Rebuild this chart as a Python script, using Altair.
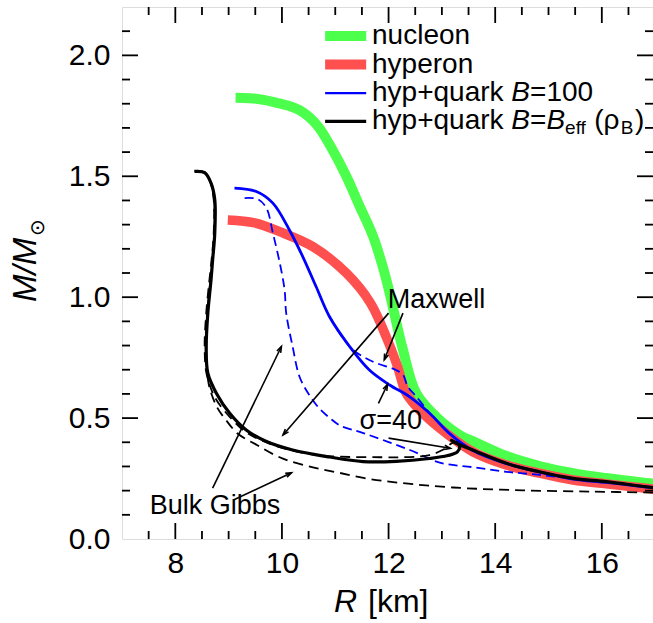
import math
import altair as alt
import pandas as pd

# ---------------- data ----------------
nucleon_R = [9.13, 9.40, 9.68, 9.95, 10.14, 10.33, 10.51, 10.70, 10.95, 11.21, 11.46, 11.71, 11.89, 12.02, 12.10,
             12.27, 12.52, 12.93, 13.39, 13.58, 14.21, 14.83, 15.46, 16.08, 16.83, 17.0]
nucleon_M = [1.825, 1.823, 1.815, 1.801, 1.791, 1.774, 1.745, 1.700, 1.609, 1.499, 1.375, 1.251, 1.127, 1.017, 0.940,
             0.782, 0.603, 0.498, 0.423, 0.405, 0.343, 0.302, 0.272, 0.252, 0.232, 0.228]

hyperon_R = [8.985, 9.49, 9.955, 10.58, 11.21, 11.66, 11.98, 12.17, 12.33, 12.64, 13.08, 13.58, 14.21, 14.83,
             15.46, 16.08, 16.83, 17.0]
hyperon_M = [1.319, 1.307, 1.271, 1.209, 1.099, 0.976, 0.823, 0.712, 0.603, 0.520, 0.437, 0.361, 0.306, 0.272,
             0.244, 0.228, 0.210, 0.206]

hq100_R = [9.11, 9.52, 9.83, 10.14, 10.39, 10.64, 10.89, 11.27, 11.64, 12.02, 12.39, 12.77, 13.14, 13.58, 14.21,
           14.83, 15.46, 16.08, 16.83, 17.0]
hq100_M = [1.451, 1.437, 1.389, 1.278, 1.168, 1.044, 0.920, 0.796, 0.699, 0.637, 0.589, 0.520, 0.437, 0.366, 0.312,
           0.277, 0.248, 0.234, 0.215, 0.211]

hq100_gibbs_R = [9.30, 9.55, 9.71, 9.83, 9.96, 10.05, 10.08, 10.20, 10.33, 10.50, 10.70, 10.90, 11.10, 11.54,
                 12.40, 12.96, 13.58, 14.21, 14.83, 15.46, 16.08, 16.83, 17.0]
hq100_gibbs_M = [1.410, 1.405, 1.368, 1.265, 1.141, 1.030, 0.934, 0.796, 0.671, 0.600, 0.540, 0.500, 0.468, 0.437,
                 0.368, 0.316, 0.297, 0.278, 0.265, 0.250, 0.236, 0.216, 0.212]

hq100_maxwell_R = [10.89, 11.14, 11.33, 11.70, 12.14, 12.27, 12.36, 12.52, 12.77]
hq100_maxwell_M = [0.920, 0.832, 0.782, 0.734, 0.699, 0.679, 0.630, 0.589, 0.520]

hqeff_R = [17.0, 16.83, 16.08, 15.46, 14.83, 14.21, 13.58, 13.27, 13.18, 13.33, 13.29, 13.11, 12.77, 12.14, 11.52,
           10.89, 10.20, 9.71, 9.33, 9.02, 8.77, 8.61, 8.58, 8.61, 8.67, 8.70, 8.74, 8.74, 8.67, 8.55, 8.36]
hqeff_M = [0.212, 0.216, 0.237, 0.251, 0.278, 0.313, 0.368, 0.396, 0.408, 0.385, 0.360, 0.345, 0.333, 0.321, 0.320,
           0.339, 0.368, 0.403, 0.451, 0.520, 0.603, 0.686, 0.796, 0.934, 1.072, 1.154, 1.265, 1.403, 1.472, 1.515, 1.520]

hqeff_maxwell_R = [13.58, 13.40, 13.24, 13.01, 12.77, 12.39, 11.87, 10.87, 10.28, 9.69, 9.32, 9.02, 8.75, 8.59,
                   8.55, 8.58, 8.64, 8.68, 8.72, 8.72, 8.66, 8.55, 8.36]
hqeff_maxwell_M = [0.368, 0.389, 0.401, 0.368, 0.347, 0.339, 0.338, 0.343, 0.361, 0.401, 0.443, 0.505, 0.583, 0.679,
                   0.794, 0.934, 1.072, 1.154, 1.265, 1.403, 1.473, 1.516, 1.520]

hqeff_gibbs_R = [16.96, 15.85, 14.52, 13.21, 12.22, 11.65, 11.09, 10.62, 10.15, 9.87, 9.53, 9.18, 8.95, 8.78, 8.63,
                 8.59, 8.57, 8.60, 8.66, 8.70, 8.73, 8.73, 8.67, 8.55, 8.36]
hqeff_gibbs_M = [0.192, 0.196, 0.201, 0.213, 0.232, 0.248, 0.273, 0.294, 0.322, 0.347, 0.389, 0.434, 0.492, 0.546,
                 0.637, 0.720, 0.794, 0.935, 1.072, 1.154, 1.266, 1.403, 1.473, 1.516, 1.520]

legend_labels = ["nucleon", "hyperon", "hyp+quark", "hyp+quark"]
legend_M = [2.080, 1.962, 1.844, 1.727]

annot_text = ["Maxwell", "Bulk Gibbs", "σ=40"]
annot_R = [12.90, 8.745, 12.04]
annot_M = [0.989, 0.137, 0.488]

arrow_R1 = [12.00, 12.27, 8.70, 9.09, 11.81, 12.00]
arrow_M1 = [0.934, 0.934, 0.210, 0.161, 0.561, 0.417]
arrow_R2 = [10.02, 11.92, 9.99, 10.18, 11.98, 13.16]
arrow_M2 = [0.430, 0.741, 0.796, 0.274, 0.639, 0.375]

x_major = [8, 10, 12, 14, 16]
x_minor = [7.5, 8.5, 9.0, 9.5, 10.5, 11.0, 11.5, 12.5, 13.0, 13.5, 14.5, 15.0, 15.5, 16.5]
y_major = [0.0, 0.5, 1.0, 1.5, 2.0]
y_minor = [0.1, 0.2, 0.3, 0.4, 0.6, 0.7, 0.8, 0.9, 1.1, 1.2, 1.3, 1.4, 1.6, 1.7, 1.8, 1.9, 2.1]

# ---------------- layout ----------------
W, H = 531, 532
PAD_L, PAD_T = 122, 7
XMIN, XMAX = 7.0, 16.96
YMIN, YMAX = 0.0, 2.2
SX = W / (XMAX - XMIN)
SY = H / (YMAX - YMIN)
FONT = "Liberation Sans"

GREEN = "#4cff4c"
RED = "#ff5050"
BLUE = "#0000ff"

xs = alt.Scale(domain=[XMIN, XMAX], nice=False, zero=False)
ys = alt.Scale(domain=[YMIN, YMAX], nice=False, zero=False)
x_axis = alt.Axis(values=x_major, format="d", ticks=False, tickSize=0, domain=False, grid=False, title=None,
                  labelFont=FONT, labelFontSize=30, labelColor="black", labelPadding=9)
y_axis = alt.Axis(values=y_major, format=".1f", ticks=False, tickSize=0, domain=False, grid=False, title=None,
                  labelFont=FONT, labelFontSize=30, labelColor="black", labelPadding=12)


def X(field="R"):
    return alt.X(f"{field}:Q", scale=xs, axis=x_axis)


def Y(field="M"):
    return alt.Y(f"{field}:Q", scale=ys, axis=y_axis)


def curve(R, M, color, width, dash=None):
    df = pd.DataFrame({"R": R, "M": M, "i": list(range(len(R)))})
    kw = dict(color=color, strokeWidth=width, clip=True, strokeJoin="round", interpolate="catmull-rom")
    if dash:
        kw["strokeDash"] = dash
    return alt.Chart(df).mark_line(**kw).encode(x=X(), y=Y(), order="i:Q")


layers = []
layers.append(curve(nucleon_R, nucleon_M, GREEN, 10))
layers.append(curve(hyperon_R, hyperon_M, RED, 9.5))
layers.append(curve(hq100_gibbs_R, hq100_gibbs_M, BLUE, 1.8, [9, 5]))
layers.append(curve(hq100_maxwell_R, hq100_maxwell_M, BLUE, 1.8, [9, 5]))
layers.append(curve(hq100_R, hq100_M, BLUE, 2.8))
layers.append(curve(hqeff_gibbs_R, hqeff_gibbs_M, "black", 1.8, [10, 6]))
layers.append(curve(hqeff_maxwell_R, hqeff_maxwell_M, "black", 1.8, [10, 6]))
layers.append(curve(hqeff_R, hqeff_M, "black", 3.2))

# ---------------- annotations (arrows + text) ----------------
arr = pd.DataFrame({"R": arrow_R1, "M": arrow_M1, "R2": arrow_R2, "M2": arrow_M2})
arr["ang"] = [
    (math.degrees(math.atan2((r2 - r1) * SX, (m2 - m1) * SY)) + 360) % 360
    for r1, m1, r2, m2 in zip(arrow_R1, arrow_M1, arrow_R2, arrow_M2)
]
layers.append(alt.Chart(arr).mark_rule(color="black", strokeWidth=1.6).encode(
    x=X(), y=Y(), x2="R2:Q", y2="M2:Q"))
layers.append(alt.Chart(arr).mark_point(
    shape="M -0.7 2 L 0 0 L 0.7 2", filled=False, stroke="black", strokeWidth=1.6, size=36, opacity=1
).encode(x=X("R2"), y=Y("M2"), angle=alt.Angle("ang:Q", scale=None)))

ann = pd.DataFrame({"R": annot_R, "M": annot_M, "t": annot_text})
layers.append(alt.Chart(ann).mark_text(font=FONT, fontSize=27, color="black", align="center",
                                       baseline="middle").encode(x=X(), y=Y(), text="t:N"))

# ---------------- legend ----------------
leg_colors = [GREEN, RED, BLUE, "black"]
leg_widths = [10, 10, 2.2, 3.2]
LEG_R1, LEG_R2, LEG_T = 10.81, 11.58, 11.69
for k in range(4):
    d = pd.DataFrame({"R": [LEG_R1], "R2": [LEG_R2], "M": [legend_M[k]]})
    layers.append(alt.Chart(d).mark_rule(color=leg_colors[k], strokeWidth=leg_widths[k]).encode(
        x=X(), x2="R2:Q", y=Y()))

AW = {' ': 278, '+': 584, '=': 584, '(': 333, ')': 333, '0': 556, '1': 556, '4': 556, 'a': 556, 'B': 667,
      'e': 556, 'f': 278, 'h': 556, 'k': 500, 'p': 556, 'q': 556, 'r': 333, 'u': 556, 'y': 500, 'ρ': 580,
      'n': 556, 'c': 500, 'l': 222, 'o': 556, 'R': 722}


def tw(s, size):
    return sum(AW.get(c, 556) for c in s) * size / 1000.0


LF = 28
SUB = 19
# segments: (text, style, size, dy, extra gap before)
rows = [
    [(legend_labels[0], "normal", LF, 0, 0)],
    [(legend_labels[1], "normal", LF, 0, 0)],
    [(legend_labels[2], "normal", LF, 0, 0), ("B", "italic", LF, 0, 7.8), ("=100", "normal", LF, 0, 0)],
    [(legend_labels[3], "normal", LF, 0, 0), ("B", "italic", LF, 0, 7.8), ("=", "normal", LF, 0, 0),
     ("B", "italic", LF, 0, 0), ("eff", "normal", SUB, 7, 0), ("(ρ", "normal", LF, 0, 8),
     ("B", "normal", SUB, 7, 1), (")", "normal", LF, 0, 1.5)],
]
for k, segs in enumerate(rows):
    off = 0.0
    for (s, style, size, dy, gap) in segs:
        off += gap
        d = pd.DataFrame({"R": [LEG_T], "M": [legend_M[k]], "t": [s]})
        layers.append(alt.Chart(d).mark_text(font=FONT, fontSize=size, fontStyle=style, color="black",
                                             align="left", baseline="middle", dx=off, dy=dy).encode(
            x=X(), y=Y(), text="t:N"))
        off += tw(s, size)

# ---------------- inward ticks on all four sides ----------------
def xticks(vals, length):
    d = pd.DataFrame({"R": vals})
    b = alt.Chart(d).mark_rule(color="black", strokeWidth=1.8).encode(
        x=X(), y=alt.value(H), y2=alt.value(H - length))
    t = alt.Chart(d).mark_rule(color="black", strokeWidth=1.8).encode(
        x=X(), y=alt.value(0), y2=alt.value(length))
    return [b, t]


def yticks(vals, length):
    d = pd.DataFrame({"M": vals})
    l = alt.Chart(d).mark_rule(color="black", strokeWidth=1.8).encode(
        y=Y(), x=alt.value(0), x2=alt.value(length))
    r = alt.Chart(d).mark_rule(color="black", strokeWidth=1.8).encode(
        y=Y(), x=alt.value(W), x2=alt.value(W - length))
    return [l, r]


layers += xticks(x_major, 16) + xticks(x_minor, 8) + yticks(y_major[1:], 16) + yticks(y_minor, 8)

# ---------------- axis titles ----------------
title_df = pd.DataFrame({"a": [0]})
TF = 32
layers.append(alt.Chart(title_df).mark_text(text="R", font=FONT, fontSize=TF, fontStyle="italic", align="left",
                                            baseline="alphabetic", color="black").encode(
    x=alt.value(334 - PAD_L), y=alt.value(612 - PAD_T)))
layers.append(alt.Chart(title_df).mark_text(text="[km]", font=FONT, fontSize=TF, align="left",
                                            baseline="alphabetic", color="black").encode(
    x=alt.value(334 - PAD_L + tw("R ", TF) + 2), y=alt.value(612 - PAD_T)))
layers.append(alt.Chart(title_df).mark_text(text="M/M", font=FONT, fontSize=33, fontStyle="italic", angle=270,
                                            align="left", baseline="alphabetic", color="black").encode(
    x=alt.value(36 - PAD_L), y=alt.value(302 - PAD_T)))
layers.append(alt.Chart(title_df).mark_text(text="⊙", font="DejaVu Sans", fontSize=20, angle=270,
                                            align="left", baseline="alphabetic", color="black").encode(
    x=alt.value(44 - PAD_L), y=alt.value(302 - PAD_T - 66)))

chart = alt.layer(*layers).properties(
    width=W, height=H,
    autosize=alt.AutoSizeParams(type="none"),
    padding={"left": PAD_L, "top": PAD_T, "right": 0, "bottom": 623 - PAD_T - H},
).configure_view(stroke="black", strokeWidth=2).configure(background="white")

chart.save("out.html", embed_options={"renderer": "svg", "actions": False})
